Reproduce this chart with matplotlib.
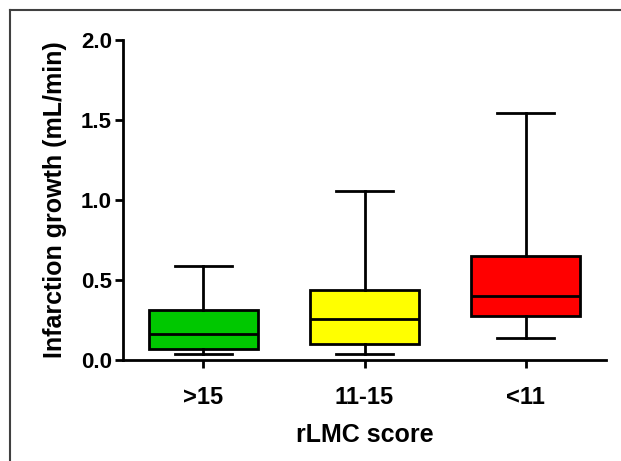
import matplotlib.pyplot as plt
from matplotlib.lines import Line2D

plt.rcParams["font.family"] = ["Liberation Sans", "DejaVu Sans"]
plt.rcParams["font.weight"] = "bold"

groups = [">15", "11-15", "<11"]
whisker_lo = [0.036, 0.037, 0.138]
q1 = [0.07, 0.10, 0.275]
median = [0.16, 0.255, 0.40]
q3 = [0.31, 0.44, 0.652]
whisker_hi = [0.59, 1.058, 1.546]
colors = ["#00C800", "#FFFF00", "#FF0000"]

stats = []
for i, g in enumerate(groups):
    stats.append(dict(label=g, whislo=whisker_lo[i], q1=q1[i], med=median[i],
                      q3=q3[i], whishi=whisker_hi[i], fliers=[]))

fig = plt.figure(figsize=(6.21, 4.61), dpi=100)
ax = fig.add_axes([0.198, 0.219, 0.778, 0.694])

lw = 2.0
bp = ax.bxp(stats, positions=[1, 2, 3], widths=0.68, capwidths=0.35,
            patch_artist=True, showfliers=False,
            boxprops=dict(linewidth=lw, edgecolor="black"),
            medianprops=dict(color="black", linewidth=lw),
            whiskerprops=dict(color="black", linewidth=lw),
            capprops=dict(color="black", linewidth=lw))
for patch, c in zip(bp["boxes"], colors):
    patch.set_facecolor(c)

ax.set_xlim(0.5, 3.5)
ax.set_ylim(0, 2.0)
ax.set_yticks([0.0, 0.5, 1.0, 1.5, 2.0])
ax.set_yticklabels(["0.0", "0.5", "1.0", "1.5", "2.0"])
ax.spines["top"].set_visible(False)
ax.spines["right"].set_visible(False)
for s in ["left", "bottom"]:
    ax.spines[s].set_linewidth(lw)
ax.tick_params(axis="both", width=lw, length=6, direction="out")
ax.tick_params(axis="y", labelsize=16, pad=2)
ax.tick_params(axis="x", labelsize=17, pad=13)
for t in ax.get_xticklabels() + ax.get_yticklabels():
    t.set_fontweight("bold")

ax.set_xlabel("rLMC score", fontsize=18, fontweight="bold", labelpad=10)
ax.set_ylabel("Infarction growth (mL/min)", fontsize=18, fontweight="bold", labelpad=10)

# frame around the figure (top and left edges only visible)
fig.add_artist(Line2D([10 / 621, 1], [451 / 461, 451 / 461], color="#404040", lw=1.5))
fig.add_artist(Line2D([10 / 621, 10 / 621], [0, 451 / 461], color="#404040", lw=1.5))

fig.savefig("out.png", dpi=100)
